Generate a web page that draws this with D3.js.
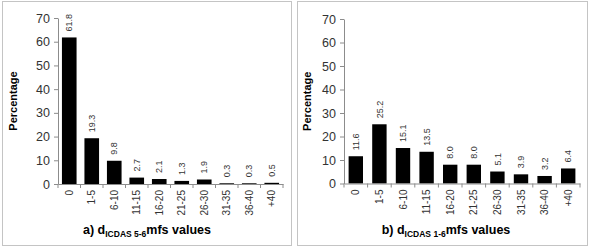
<!DOCTYPE html>
<html><head><meta charset="utf-8">
<script src="https://cdn.jsdelivr.net/npm/d3@7"></script>
<style>
html,body{margin:0;padding:0;background:#fff;}
text{font-family:"Liberation Sans",Arial,sans-serif;}
</style></head>
<body><svg id="c" width="589" height="248"></svg>
<script>
const categories = ["0","1-5","6-10","11-15","16-20","21-25","26-30","31-35","36-40","+40"];
const valuesA = [61.8,19.3,9.8,2.7,2.1,1.3,1.9,0.3,0.3,0.5];
const valuesB = [11.6,25.2,15.1,13.5,8.0,8.0,5.1,3.9,3.2,6.4];
const yTicks = [0,10,20,30,40,50,60,70];
const yLabel = "Percentage";
const titleA = ["a) d","ICDAS 5-6","mfs values"];
const titleB = ["b) d","ICDAS 1-6","mfs values"];

const svg = d3.select("#c");
svg.append("rect").attr("width",589).attr("height",248).attr("fill","#fff");

function panel(cfg){
  const g = svg.append("g");
  g.append("rect").attr("x",cfg.box[0]+0.5).attr("y",cfg.box[1]+0.5)
    .attr("width",cfg.box[2]).attr("height",cfg.box[3])
    .attr("fill","none").attr("stroke","#c4c4c4").attr("stroke-width",1);
  const x = d3.scaleBand().domain(categories).range(cfg.xr).paddingInner(cfg.pad).paddingOuter(cfg.pad/2);
  const y = d3.scaleLinear().domain([0,70]).range(cfg.yr);
  // y axis
  const ya = g.append("g").attr("transform",`translate(${cfg.xr[0]},0)`)
    .call(d3.axisLeft(y).tickValues(yTicks).tickSize(4).tickSizeOuter(0).tickPadding(4));
  ya.select(".domain").attr("stroke","#8c8c8c");
  ya.selectAll(".tick line").attr("stroke","#8c8c8c");
  ya.selectAll(".tick text").attr("font-size","12.5px").attr("fill","#333").attr("font-family","'Liberation Sans',Arial,sans-serif");
  // bars
  g.selectAll("rect.bar").data(cfg.vals).enter().append("rect").attr("class","bar")
    .attr("x",(d,i)=>x(categories[i])).attr("width",x.bandwidth())
    .attr("y",d=>y(d)).attr("height",d=>y(0)-y(d)).attr("fill","#000");
  // x axis
  const xa = g.append("g").attr("transform",`translate(0,${cfg.yr[0]})`)
    .call(d3.axisBottom(x).tickSize(0).tickSizeOuter(0).tickFormat(""));
  xa.select(".domain").attr("stroke","#8c8c8c");
  const step = x.step();
  g.selectAll("line.xt").data(d3.range(categories.length+1)).enter().append("line")
    .attr("class","xt")
    .attr("x1",i=>cfg.xr[0]+i*step).attr("x2",i=>cfg.xr[0]+i*step)
    .attr("y1",cfg.yr[0]).attr("y2",cfg.yr[0]+4).attr("stroke","#8c8c8c");
  // category labels
  g.selectAll("text.cat").data(categories).enter().append("text").attr("class","cat")
    .attr("transform",d=>`translate(${x(d)+x.bandwidth()/2},${cfg.yr[0]+6}) rotate(-90)`)
    .attr("text-anchor","end").attr("dy","0.35em")
    .attr("font-size","10px").attr("fill","#333").text(d=>d);
  // value labels
  g.selectAll("text.val").data(cfg.vals).enter().append("text").attr("class","val")
    .attr("transform",(d,i)=>`translate(${x(categories[i])+x.bandwidth()/2},${y(d)-6}) rotate(-90)`)
    .attr("text-anchor","start").attr("dy","0.35em")
    .attr("font-size","9px").attr("fill","#333").text(d=>d.toFixed(1));
  // y label
  g.append("text").attr("transform",`translate(${cfg.ylx},${(cfg.yr[0]+cfg.yr[1])/2}) rotate(-90)`)
    .attr("text-anchor","middle").attr("dy","0.35em")
    .attr("font-size","11px").attr("font-weight","bold").attr("fill","#000").text(yLabel);
  // title
  const t = g.append("text").attr("x",cfg.tx).attr("y",cfg.ty).attr("text-anchor","middle")
    .attr("font-weight","bold").attr("font-size","12.5px").attr("fill","#000");
  t.append("tspan").text(cfg.title[0]);
  t.append("tspan").attr("font-size","8.5px").attr("dy","2.5").text(cfg.title[1]);
  t.append("tspan").attr("dy","-2.5").text(cfg.title[2]);
}

panel({box:[2,1,289,244], xr:[58,283], yr:[184,18], pad:0.35, vals:valuesA, ylx:13, tx:147, ty:234, title:titleA});
panel({box:[297,1,290,244], xr:[344,580], yr:[183.5,19], pad:0.39, vals:valuesB, ylx:307, tx:446, ty:234, title:titleB});
</script></body></html>
